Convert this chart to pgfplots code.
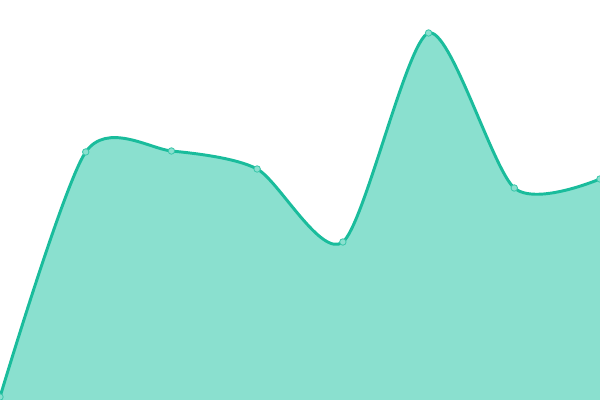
\documentclass[border=0pt]{standalone}
\usepackage{pgfplots}
\pgfplotsset{compat=1.18}
\definecolor{tealline}{HTML}{1ABC9C}
\definecolor{tealfill}{HTML}{8AE0CF}
\definecolor{tealmark}{HTML}{8AE0CF}
\pgfplotstableread{
x y
0 3
1 248
2 249
3 231
4 158
5 367
6 212
7 221
}\series
\begin{document}
\begin{tikzpicture}
\path[use as bounding box] (0,0) rectangle (15cm,10cm);
\begin{axis}[
    at={(0,0)}, anchor=south west,
    width=15cm, height=10cm,
    scale only axis,
    hide axis,
    xmin=0, xmax=7,
    ymin=0, ymax=400,
    clip=true,
]
\addplot[fill=tealfill, draw=none, smooth, tension=0.45, forget plot] table[x=x,y=y] {\series} \closedcycle;
\addplot[tealline, line width=2.1pt, smooth, tension=0.45,
    mark=*, mark size=2.3pt,
    mark options={fill=tealmark, draw=tealline!70!tealfill, line width=0.6pt}]
    table[x=x,y=y] {\series};
\end{axis}
\end{tikzpicture}
\end{document}
